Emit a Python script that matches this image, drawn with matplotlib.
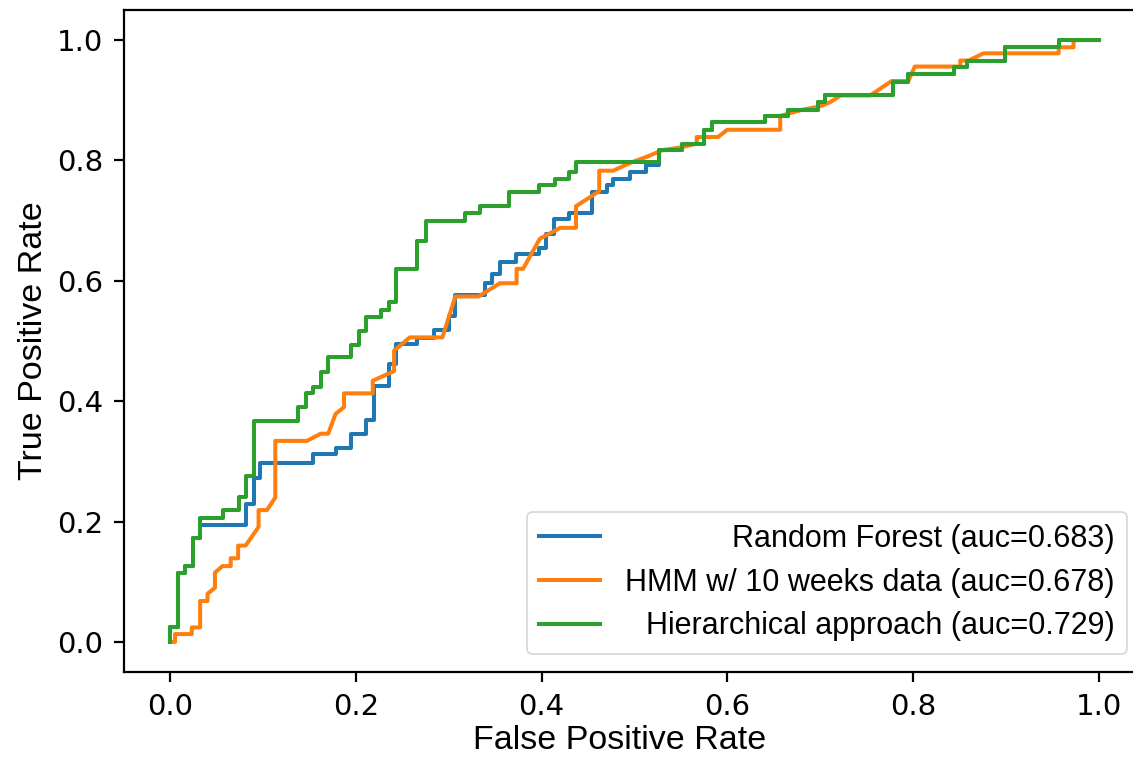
import matplotlib
matplotlib.use("Agg")
import matplotlib.pyplot as plt

# ---- data ----
fpr_rf = [0, 0, 0.008, 0.008, 0.016, 0.016, 0.024, 0.024, 0.032, 0.032, 0.081, 0.081, 0.090, 0.090,
          0.097, 0.097, 0.154, 0.154, 0.178, 0.178, 0.195, 0.195, 0.211, 0.211, 0.219, 0.219, 0.235,
          0.235, 0.243, 0.243, 0.266, 0.266, 0.284, 0.284, 0.300, 0.300, 0.307, 0.307, 0.339, 0.339,
          0.347, 0.347, 0.355, 0.355, 0.372, 0.372, 0.397, 0.397, 0.405, 0.405, 0.413, 0.413, 0.429,
          0.429, 0.454, 0.454, 0.470, 0.470, 0.477, 0.477, 0.495, 0.495, 0.512, 0.512, 0.526, 0.526,
          0.551, 0.551, 0.575, 0.575, 0.583, 0.583, 0.641, 0.641, 0.665, 0.665, 0.698, 0.698, 0.705,
          0.705, 0.778, 0.778, 0.795, 0.795, 0.844, 0.844, 0.858, 0.858, 0.899, 0.899, 0.957, 0.957, 1.0]
tpr_rf = [0, 0.024, 0.024, 0.115, 0.115, 0.126, 0.126, 0.173, 0.173, 0.195, 0.195, 0.229, 0.229, 0.273,
          0.273, 0.298, 0.298, 0.312, 0.312, 0.322, 0.322, 0.346, 0.346, 0.369, 0.369, 0.426, 0.426,
          0.461, 0.461, 0.495, 0.495, 0.505, 0.505, 0.519, 0.519, 0.542, 0.542, 0.576, 0.576, 0.596,
          0.596, 0.611, 0.611, 0.631, 0.631, 0.644, 0.644, 0.655, 0.655, 0.677, 0.677, 0.702, 0.702,
          0.713, 0.713, 0.748, 0.748, 0.759, 0.759, 0.770, 0.770, 0.781, 0.781, 0.792, 0.792, 0.817,
          0.817, 0.828, 0.828, 0.851, 0.851, 0.864, 0.864, 0.874, 0.874, 0.884, 0.884, 0.897, 0.897,
          0.908, 0.908, 0.931, 0.931, 0.944, 0.944, 0.955, 0.955, 0.966, 0.966, 0.988, 0.988, 1.0, 1.0]

fpr_hmm = [0, 0.005, 0.005, 0.023, 0.023, 0.032, 0.032, 0.040, 0.040, 0.048, 0.048, 0.056, 0.065, 0.065,
           0.073, 0.073, 0.081, 0.095, 0.095, 0.104, 0.113, 0.113, 0.147, 0.162, 0.170, 0.178, 0.187,
           0.187, 0.218, 0.218, 0.241, 0.241, 0.258, 0.293, 0.300, 0.307, 0.332, 0.355, 0.373, 0.373,
           0.380, 0.398, 0.420, 0.437, 0.437, 0.462, 0.462, 0.477, 0.497, 0.513, 0.530, 0.551, 0.567,
           0.567, 0.590, 0.600, 0.657, 0.657, 0.680, 0.700, 0.711, 0.722, 0.754, 0.777, 0.795, 0.802,
           0.851, 0.851, 0.860, 0.876, 0.957, 0.957, 0.973, 0.973, 1.0]
tpr_hmm = [0, 0, 0.013, 0.013, 0.024, 0.024, 0.068, 0.068, 0.080, 0.090, 0.115, 0.126, 0.126, 0.139,
           0.139, 0.160, 0.160, 0.191, 0.219, 0.219, 0.240, 0.334, 0.334, 0.346, 0.346, 0.379, 0.390,
           0.413, 0.413, 0.434, 0.450, 0.484, 0.506, 0.506, 0.540, 0.574, 0.574, 0.596, 0.596, 0.620,
           0.620, 0.670, 0.688, 0.688, 0.724, 0.749, 0.783, 0.783, 0.797, 0.806, 0.817, 0.822, 0.828,
           0.839, 0.839, 0.851, 0.851, 0.874, 0.884, 0.890, 0.897, 0.908, 0.908, 0.932, 0.932, 0.956,
           0.956, 0.966, 0.966, 0.978, 0.978, 0.988, 0.988, 1.0, 1.0]

fpr_hier = [0, 0, 0.008, 0.008, 0.016, 0.016, 0.024, 0.024, 0.032, 0.032, 0.057, 0.057, 0.074, 0.074,
            0.081, 0.081, 0.090, 0.090, 0.138, 0.138, 0.146, 0.146, 0.154, 0.154, 0.162, 0.162, 0.170,
            0.170, 0.195, 0.195, 0.203, 0.203, 0.211, 0.211, 0.227, 0.227, 0.235, 0.235, 0.243, 0.243,
            0.266, 0.266, 0.275, 0.275, 0.317, 0.317, 0.334, 0.334, 0.365, 0.365, 0.397, 0.397, 0.414,
            0.414, 0.429, 0.429, 0.437, 0.437, 0.526, 0.526, 0.551, 0.551, 0.575, 0.575, 0.583, 0.583,
            0.641, 0.641, 0.665, 0.665, 0.698, 0.698, 0.705, 0.705, 0.778, 0.778, 0.795, 0.795, 0.844,
            0.844, 0.858, 0.858, 0.899, 0.899, 0.957, 0.957, 1.0]
tpr_hier = [0, 0.024, 0.024, 0.115, 0.115, 0.126, 0.126, 0.173, 0.173, 0.206, 0.206, 0.219, 0.219, 0.240,
            0.240, 0.276, 0.276, 0.367, 0.367, 0.390, 0.390, 0.413, 0.413, 0.424, 0.424, 0.448, 0.448,
            0.473, 0.473, 0.493, 0.493, 0.517, 0.517, 0.540, 0.540, 0.551, 0.551, 0.565, 0.565, 0.620,
            0.620, 0.666, 0.666, 0.700, 0.700, 0.712, 0.712, 0.724, 0.724, 0.748, 0.748, 0.759, 0.759,
            0.770, 0.770, 0.781, 0.781, 0.797, 0.797, 0.817, 0.817, 0.828, 0.828, 0.851, 0.851, 0.864,
            0.864, 0.874, 0.874, 0.884, 0.884, 0.897, 0.897, 0.908, 0.908, 0.931, 0.931, 0.944, 0.944,
            0.955, 0.955, 0.966, 0.966, 0.988, 0.988, 1.0, 1.0]

labels = ["Random Forest (auc=0.683)",
          "HMM w/ 10 weeks data (auc=0.678)",
          "Hierarchical approach (auc=0.729)"]
colors = ["#1f77b4", "#ff7f0e", "#2ca02c"]
x_ticks = [0.0, 0.2, 0.4, 0.6, 0.8, 1.0]
y_ticks = [0.0, 0.2, 0.4, 0.6, 0.8, 1.0]

# ---- figure ----
W, H, DPI = 1133, 757, 100
fig = plt.figure(figsize=(W / DPI, H / DPI), dpi=DPI)
ax_left, ax_right, ax_top, ax_bottom = 124, 1145, 10, 672
ax = fig.add_axes([ax_left / W, (H - ax_bottom) / H, (ax_right - ax_left) / W, (ax_bottom - ax_top) / H])

lw = 2.9
ax.plot(fpr_rf, tpr_rf, color=colors[0], lw=lw, label=labels[0])
ax.plot(fpr_hmm, tpr_hmm, color=colors[1], lw=lw, label=labels[1])
ax.plot(fpr_hier, tpr_hier, color=colors[2], lw=lw, label=labels[2])

ax.set_xlim(-0.05, 1.05)
ax.set_ylim(-0.05, 1.05)
ax.set_xticks(x_ticks)
ax.set_yticks(y_ticks)
ax.tick_params(labelsize=21, length=7.3, width=1.6, pad=7.5)
for s in ax.spines.values():
    s.set_linewidth(1.6)
ax.spines["right"].set_visible(False)

label_font = dict(family="Liberation Sans", size=24.5)
ax.set_xlabel("False Positive Rate", fontdict=label_font)
ax.set_ylabel("True Positive Rate", fontdict=label_font, labelpad=6)
ax.xaxis.set_label_coords((620 - ax_left) / (ax_right - ax_left), -(725 - ax_bottom) / (ax_bottom - ax_top))

leg = ax.legend(loc="lower right", prop=dict(family="Liberation Sans", size=22),
                borderaxespad=0.6, handlelength=2.0, labelspacing=0.45)
leg.get_frame().set_linewidth(1.2)

# right-align legend labels
fig.canvas.draw()
renderer = fig.canvas.get_renderer()
texts = leg.get_texts()
widths = [t.get_window_extent(renderer).width for t in texts]
maxw = max(widths)
for t, w in zip(texts, widths):
    t.set_position((maxw - w, 0))

fig.savefig("out.png", dpi=DPI)
